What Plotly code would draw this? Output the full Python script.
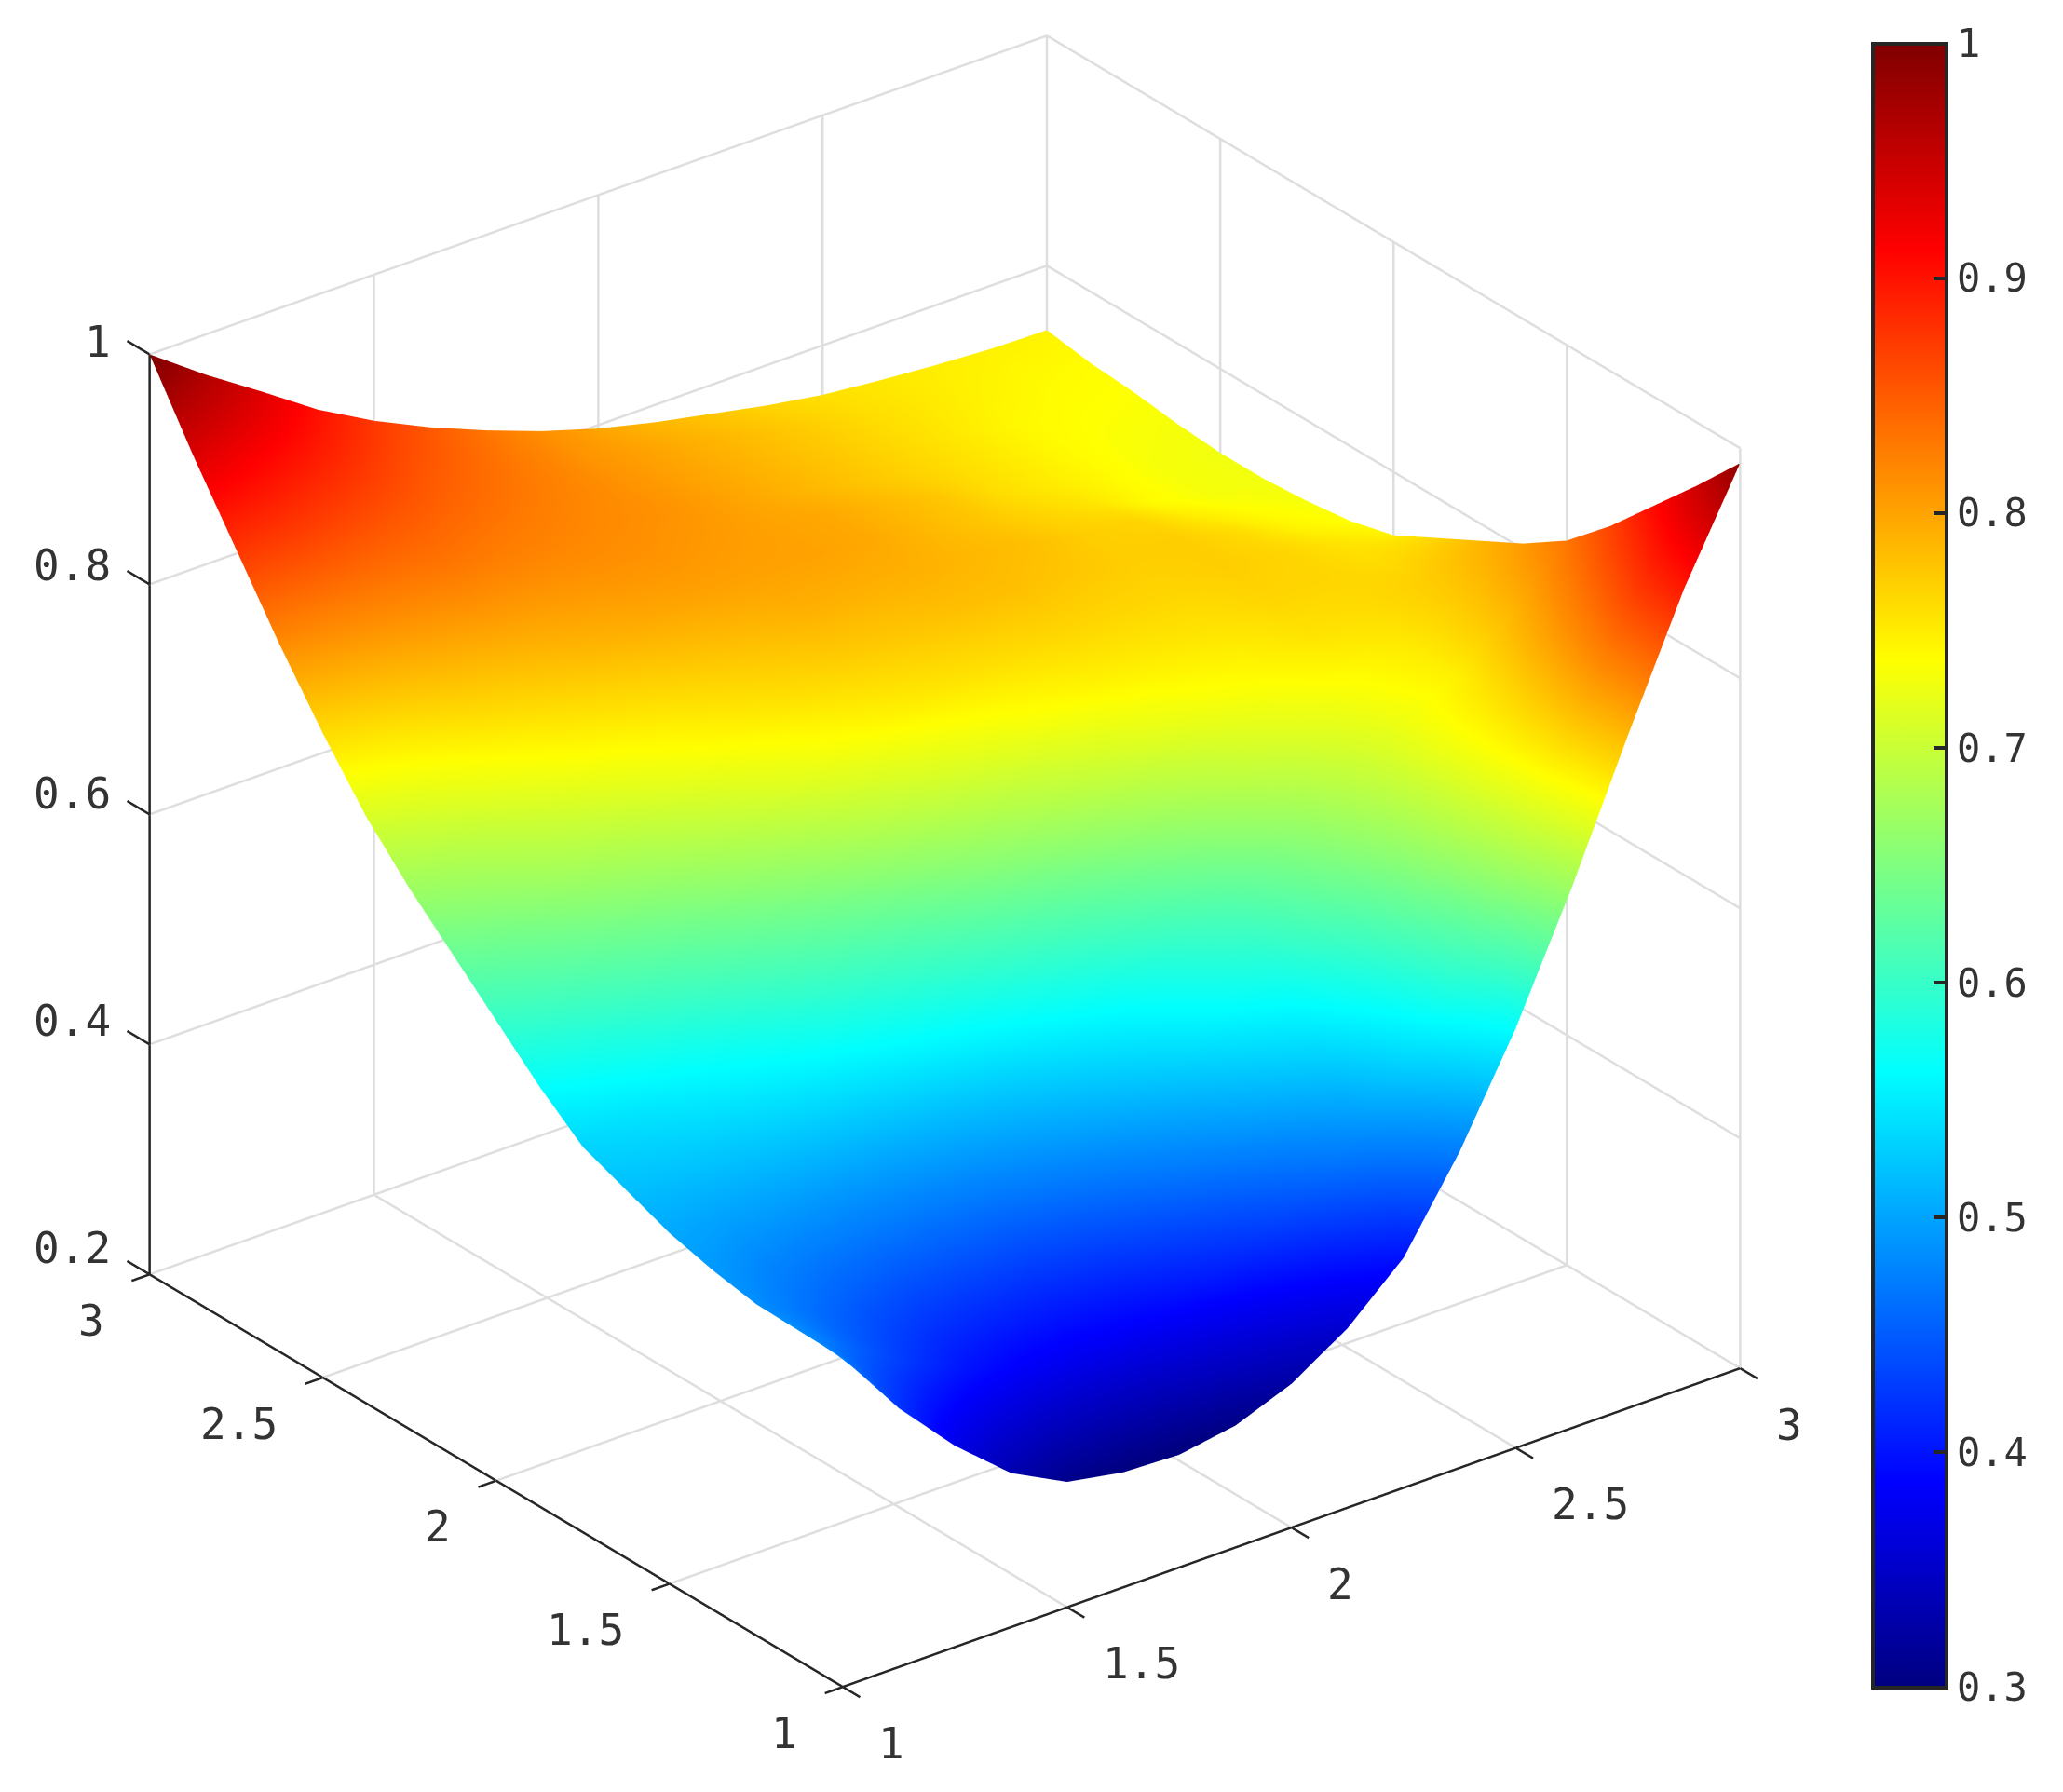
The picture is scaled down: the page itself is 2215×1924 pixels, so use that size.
import plotly.graph_objects as go

x_vals = [1, 1.125, 1.25, 1.375, 1.5, 1.625, 1.75, 1.875, 2, 2.125, 2.25, 2.375, 2.5, 2.625, 2.75, 2.875, 3]
y_vals = [1, 1.125, 1.25, 1.375, 1.5, 1.625, 1.75, 1.875, 2, 2.125, 2.25, 2.375, 2.5, 2.625, 2.75, 2.875, 3]
z_rows = [
    [.486, .425, .375, .334, .309, .30, .298, .306, .325, .356, .40, .475, .565, .67, .785, .895, .987],
    [.487, .455, .425, .40, .385, .38, .385, .40, .42, .45, .49, .55, .62, .705, .79, .875, .945],
    [.488, .465, .445, .43, .425, .425, .435, .455, .48, .51, .54, .59, .655, .72, .775, .84, .905],
    [.495, .48, .47, .465, .465, .47, .485, .505, .53, .56, .585, .63, .675, .725, .76, .81, .865],
    [.505, .50, .50, .50, .505, .515, .53, .55, .57, .595, .625, .66, .695, .725, .745, .785, .83],
    [.52, .525, .53, .54, .55, .565, .58, .60, .62, .645, .67, .70, .72, .735, .75, .775, .805],
    [.535, .545, .56, .575, .595, .61, .63, .655, .675, .695, .715, .73, .74, .755, .76, .77, .785],
    [.565, .58, .60, .62, .64, .66, .685, .705, .72, .735, .745, .75, .755, .765, .765, .76, .765],
    [.60, .62, .64, .66, .685, .71, .73, .745, .755, .76, .765, .765, .765, .77, .765, .755, .745],
    [.635, .655, .68, .70, .725, .745, .76, .77, .775, .78, .78, .775, .77, .77, .76, .745, .735],
    [.67, .69, .715, .74, .755, .77, .78, .79, .79, .79, .785, .78, .77, .765, .75, .738, .73],
    [.71, .73, .755, .77, .785, .795, .80, .80, .80, .795, .785, .775, .765, .755, .74, .73, .727],
    [.76, .775, .79, .80, .805, .81, .81, .805, .80, .795, .785, .775, .76, .75, .74, .73, .727],
    [.815, .82, .825, .83, .825, .82, .815, .81, .80, .79, .78, .77, .76, .75, .74, .733, .73],
    [.875, .87, .86, .85, .84, .83, .82, .81, .80, .79, .78, .77, .76, .75, .74, .737, .735],
    [.935, .915, .895, .875, .855, .84, .825, .81, .80, .79, .78, .77, .76, .752, .745, .74, .738],
    [1.0, .965, .933, .90, .873, .85, .83, .812, .797, .785, .775, .765, .757, .752, .748, .745, .744],
]

xy_ticks = [1, 1.5, 2, 2.5, 3]
xy_labels = ["1", "1.5", "2", "2.5", "3"]
z_ticks = [0.2, 0.4, 0.6, 0.8, 1]
z_labels = ["0.2", "0.4", "0.6", "0.8", "1"]
z_label_lift = [28, 25, 22, 20, 13]
cb_ticks = [0.3, 0.4, 0.5, 0.6, 0.7, 0.8, 0.9, 1]
cb_labels = ["0.3", "0.4", "0.5", "0.6", "0.7", "0.8", "0.9", "1"]

jet = [[0, "rgb(0,0,128)"], [0.125, "rgb(0,0,255)"], [0.375, "rgb(0,255,255)"],
       [0.625, "rgb(255,255,0)"], [0.875, "rgb(255,0,0)"], [1, "rgb(128,0,0)"]]

CB_FONT = dict(family="DejaVu Sans Mono", size=42, color="#333333")
AX_FONT = dict(family="DejaVu Sans Mono", size=46, color="#333333")
W, H = 2215, 1924
X0, X1, Y0, Y1, Z0, Z1 = 1, 3, 1, 3, 0.2, 1
TICK_X, TICK_Y, TICK_Z = 0.04, 0.05, 0.065  # tick lengths along the neighbouring axes
ROOM = 0.006  # keeps the lines on the box edges inside the scene

surface = go.Surface(
    x=x_vals, y=y_vals, z=z_rows, cmin=0.3, cmax=1, colorscale=jet,
    lighting=dict(ambient=1, diffuse=0, specular=0, roughness=1, fresnel=0),
    hoverinfo="skip",
    colorbar=dict(
        x=2003 / W, xanchor="left", xpad=0, ypad=0,
        y=1 - 921 / H, yanchor="middle", len=1765, lenmode="pixels",
        thickness=79, thicknessmode="pixels",
        tickvals=cb_ticks, ticktext=cb_labels, ticks="inside", ticklen=16,
        tickwidth=4, tickcolor="#262626", tickfont=CB_FONT,
        outlinecolor="#262626", outlinewidth=4,
    ),
)


def seg(xs, ys, zs, a, b):
    xs += [a[0], b[0], None]
    ys += [a[1], b[1], None]
    zs += [a[2], b[2], None]


# grid on the back walls and the floor
gx, gy, gz = [], [], []
for t in xy_ticks:
    seg(gx, gy, gz, (t, Y0, Z0), (t, Y1, Z0))
    seg(gx, gy, gz, (X0, t, Z0), (X1, t, Z0))
    seg(gx, gy, gz, (t, Y1, Z0), (t, Y1, Z1))
    seg(gx, gy, gz, (X1, t, Z0), (X1, t, Z1))
for t in z_ticks:
    seg(gx, gy, gz, (X0, Y1, t), (X1, Y1, t))
    seg(gx, gy, gz, (X1, Y0, t), (X1, Y1, t))
grid = go.Scatter3d(x=gx, y=gy, z=gz, mode="lines", hoverinfo="skip", showlegend=False,
                    line=dict(color="#dedede", width=5))

# the three axis lines and their ticks
ax, ay, az = [], [], []
seg(ax, ay, az, (X0, Y0, Z0), (X1, Y0, Z0))
seg(ax, ay, az, (X0, Y0, Z0), (X0, Y1, Z0))
seg(ax, ay, az, (X0, Y1, Z0), (X0, Y1, Z1))
for t in xy_ticks:
    seg(ax, ay, az, (t, Y0, Z0), (t, Y0 - TICK_Y, Z0))
    seg(ax, ay, az, (X0, t, Z0), (X0 - TICK_X, t, Z0))
for t in z_ticks:
    seg(ax, ay, az, (X0, Y1, t), (X0, Y1 + TICK_Z, t))
axes_lines = go.Scatter3d(x=ax, y=ay, z=az, mode="lines", hoverinfo="skip", showlegend=False,
                          line=dict(color="#262626", width=5))


def axis(rng):
    return dict(
        range=rng, title=dict(text=""), showbackground=False, showgrid=False,
        showline=False, zeroline=False, ticks="", showticklabels=False, showspikes=False,
    )


notes = []
for v, s in zip(xy_ticks, xy_labels):
    notes.append(dict(x=v, y=Y0, z=Z0, text=s, showarrow=False, font=AX_FONT,
                      xanchor="left", yanchor="middle", xshift=36, yshift=-61))
    notes.append(dict(x=X0, y=v, z=Z0, text=s, showarrow=False, font=AX_FONT,
                      xanchor="right", yanchor="middle", xshift=-47, yshift=-50))
for v, s, lift in zip(z_ticks, z_labels, z_label_lift):
    notes.append(dict(x=X0, y=Y1, z=v, text=s, showarrow=False, font=AX_FONT,
                      xanchor="right", yanchor="middle", xshift=-40, yshift=lift))

SCALE = 1.332
fig = go.Figure([grid, surface, axes_lines])
fig.update_layout(
    width=W, height=H, margin=dict(l=0, r=0, t=0, b=0),
    paper_bgcolor="white", showlegend=False,
    scene=dict(
        domain=dict(x=[0, 0.899], y=[0.048, 0.998]),
        xaxis=axis([X0 - TICK_X, X1 + ROOM]),
        yaxis=axis([Y0 - TICK_Y, Y1 + TICK_Z]),
        zaxis=axis([Z0 - ROOM, Z1 + ROOM]),
        aspectmode="manual",
        aspectratio=dict(x=SCALE * (X1 - X0 + TICK_X + ROOM) / 2,
                         y=SCALE * (Y1 - Y0 + TICK_Y + TICK_Z) / 2,
                         z=1.217 * (Z1 - Z0 + 2 * ROOM) / (Z1 - Z0)),
        annotations=notes,
        camera=dict(
            projection=dict(type="orthographic"),
            eye=dict(x=-1.63, y=-2.11, z=1.38),
            center=dict(x=0, y=0, z=0), up=dict(x=0, y=0, z=1),
        ),
    ),
)
fig.write_html("out.html")
